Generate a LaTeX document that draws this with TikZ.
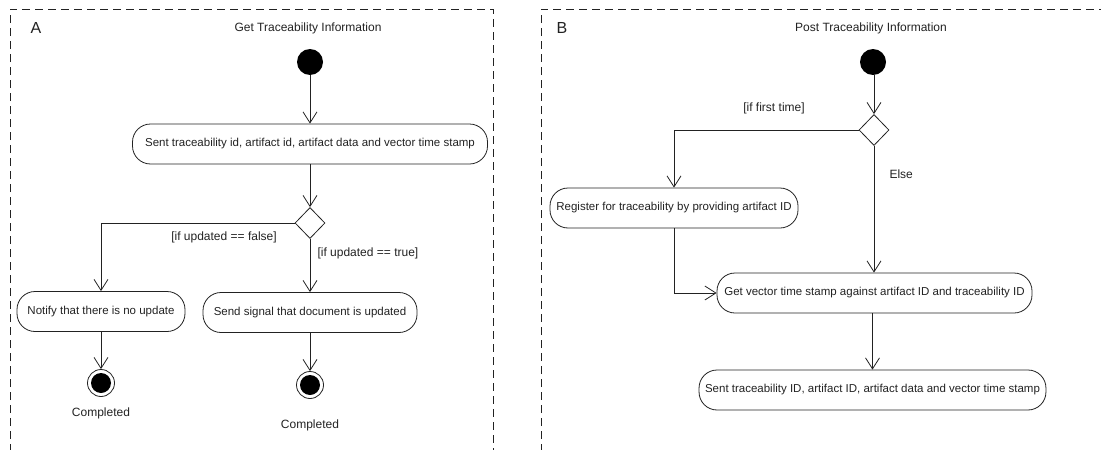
\documentclass[tikz,border=0pt]{standalone}
\usepackage{fontspec}
\setmainfont{Liberation Sans}
\usetikzlibrary{arrows.meta,shapes.geometric}
\definecolor{ink}{HTML}{222222}
\begin{document}
\begin{tikzpicture}[x=1pt,y=-1pt,
  every node/.style={font=\fontsize{11.5}{13}\selectfont, text=ink},
  panel/.style={draw=ink, line width=0.8pt, dash pattern=on 8pt off 5pt},
  action/.style={draw=ink, line width=0.8pt, rounded corners=18pt, minimum height=40pt, inner xsep=6pt},
  startnode/.style={circle, fill=black, minimum size=26pt, inner sep=0pt},
  endnode/.style={circle, draw=ink, line width=0.8pt, minimum size=27pt, inner sep=0pt,
    path picture={\fill[black] (path picture bounding box.center) circle (10pt);}},
  decision/.style={diamond, draw=ink, line width=0.8pt, minimum width=30pt, minimum height=31pt, inner sep=0pt},
  flow/.style={draw=ink, line width=0.8pt, -{Straight Barb[length=11pt,width=14pt,line width=0.8pt]}},
  caption/.style={font=\fontsize{12}{14}\selectfont},
  letter/.style={font=\fontsize{16}{18}\selectfont}]
\useasboundingbox (0,0) rectangle (1101,450);

% swimlane frames, open at the bottom
\draw[panel] (10,452) -- (10,9) -- (493,9) -- (493,452);
\draw[panel] (541,452) -- (541,9) -- (1103,9);

% ---- A: Get Traceability Information ----
\node[letter] (lblA) at (36,28) {A};
\node[caption] (titleA) at (308,28) {Get Traceability Information};
\node[startnode] (startA) at (310,62) {};
\node[action, minimum width=355pt] (sendA) at (310,144) {Sent traceability id, artifact id, artifact data and vector time stamp};
\node[decision] (decA) at (310,223) {};
\node[action, minimum width=168pt] (notify) at (101,311.5) {Notify that there is no update};
\node[action, minimum width=214pt] (signal) at (310,312.5) {Send signal that document is updated};
\node[endnode] (endA1) at (101,383) {};
\node[endnode] (endA2) at (310,385) {};
\node[caption] (doneA1) at (101,413) {Completed};
\node[caption] (doneA2) at (310,425) {Completed};
\node[caption] (gFalse) at (224,237) {[if updated == false]};
\node[caption, anchor=west] (gTrue) at (314,253) {[if updated == true]};

\draw[flow] (startA) -- (sendA);
\draw[flow] (sendA) -- (decA);
\draw[flow] (decA.west) -| (notify.north);
\draw[flow] (decA.south) -- (signal.north);
\draw[flow] (notify.south) -- (endA1.north);
\draw[flow] (signal.south) -- (endA2.north);

% ---- B: Post Traceability Information ----
\node[letter] (lblB) at (562,28) {B};
\node[caption] (titleB) at (871,28) {Post Traceability Information};
\node[startnode] (startB) at (873,62) {};
\node[decision] (decB) at (874,130) {};
\node[action, minimum width=248pt] (register) at (674,208) {Register for traceability by providing artifact ID};
\node[action, minimum width=315pt] (getvts) at (874.5,293) {Get vector time stamp against artifact ID and traceability ID};
\node[action, minimum width=345pt] (sendB) at (872.5,390) {Sent traceability ID, artifact ID, artifact data and vector time stamp};
\node[caption] (gFirst) at (774,108) {[if first time]};
\node[caption, anchor=west] (gElse) at (886,174) {Else};

\draw[flow] (startB.south -| decB.north) -- (decB.north);
\draw[flow] (decB.west) -| (register.north);
\draw[flow] (decB.south) -- (decB.south |- getvts.north);
\draw[flow] (register.south) |- (getvts.west);
\draw[flow] (getvts.south -| sendB.north) -- (sendB.north);
\end{tikzpicture}
\end{document}
